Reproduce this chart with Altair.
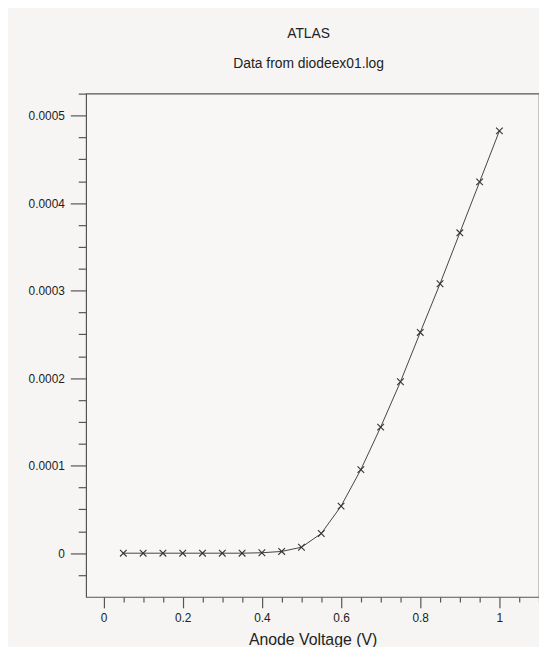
import altair as alt
import pandas as pd

voltage = [0.05, 0.10, 0.15, 0.20, 0.25, 0.30, 0.35, 0.40, 0.45, 0.50,
           0.55, 0.60, 0.65, 0.70, 0.75, 0.80, 0.85, 0.90, 0.95, 1.00]
current = [0.0, 0.0, 0.0, 0.0, 0.0, 0.0, 0.0, 0.0000005, 0.000002, 0.0000068,
           0.0000225, 0.0000538, 0.0000955, 0.000144, 0.0001958, 0.0002522,
           0.0003078, 0.000366, 0.0004242, 0.0004825]

x_major = [0, 0.2, 0.4, 0.6, 0.8, 1.0]
x_minor = [0.05, 0.1, 0.15, 0.25, 0.3, 0.35, 0.45, 0.5, 0.55, 0.65, 0.7, 0.75,
           0.85, 0.9, 0.95, 1.05, 1.1]
y_major = [0, 0.0001, 0.0002, 0.0003, 0.0004, 0.0005]
y_minor = [-0.000025, 0.000025, 0.00005, 0.000075, 0.000125, 0.00015, 0.000175,
           0.000225, 0.00025, 0.000275, 0.000325, 0.00035, 0.000375,
           0.000425, 0.00045, 0.000475, 0.000525]
x_domain = [-0.044, 1.1]
y_domain = [-0.00005, 0.000525]

df = pd.DataFrame({"v": voltage, "i": current})

FONT = "Liberation Sans"
TXT = "#222222"
LINE = "#444444"

xs = alt.Scale(domain=x_domain, nice=False, zero=False)
ys = alt.Scale(domain=y_domain, nice=False, zero=False)

base = alt.Chart(df)

main_x = alt.X("v:Q", scale=xs, title="Anode Voltage (V)",
               axis=alt.Axis(values=x_major, orient="bottom", tickSize=11,
                             labelFontSize=12, labelPadding=5, titleFontSize=16,
                             titlePadding=8, grid=False, domain=False,
                             labelExpr="format(datum.value, '~g')"))
main_y = alt.Y("i:Q", scale=ys, title=None,
               axis=alt.Axis(values=y_major, orient="left", tickSize=16,
                             labelFontSize=12, labelPadding=6, grid=False,
                             domain=False,
                             labelExpr="datum.value == 0 ? '0' : format(datum.value, '.4f')"))

line = base.mark_line(color=LINE, strokeWidth=1).encode(x=main_x, y=main_y)
pts = base.mark_point(shape="M-1,-1L1,1M-1,1L1,-1", filled=False, color="#333333",
                      size=45, strokeWidth=1.1, opacity=1).encode(
    x=alt.X("v:Q", scale=xs, axis=None),
    y=alt.Y("i:Q", scale=ys, axis=None),
)

minor = base.mark_point(opacity=0).encode(
    x=alt.X("v:Q", scale=xs, title=None,
            axis=alt.Axis(values=x_minor, orient="bottom", tickSize=5,
                          labels=False, grid=False, domain=False)),
    y=alt.Y("i:Q", scale=ys, title=None,
            axis=alt.Axis(values=y_minor, orient="left", tickSize=8,
                          labels=False, grid=False, domain=False)),
)

chart = alt.layer(line, pts, minor).resolve_axis(
    x="independent", y="independent"
).properties(
    width=458,
    height=509,
    padding={"left": 79, "top": 83, "right": 0, "bottom": 47},
    autosize=alt.AutoSizeParams(type="none"),
    background="#f6f5f3",
    title=alt.TitleParams("ATLAS", subtitle="Data from diodeex01.log",
                          fontSize=14, subtitleFontSize=14, font=FONT,
                          subtitleFont=FONT, color=TXT, subtitleColor=TXT,
                          fontWeight="normal", anchor="middle", offset=22,
                          subtitlePadding=17, dx=-4),
).configure_axis(
    labelFont=FONT, titleFont=FONT, labelColor=TXT, titleColor=TXT,
    tickColor="#555555", tickWidth=1.2, titleFontWeight="normal",
).configure_view(
    stroke="#555555", strokeWidth=1.2, fill="#f8f7f5",
)

chart.save("out.html", embed_options={"renderer": "svg", "actions": False})
